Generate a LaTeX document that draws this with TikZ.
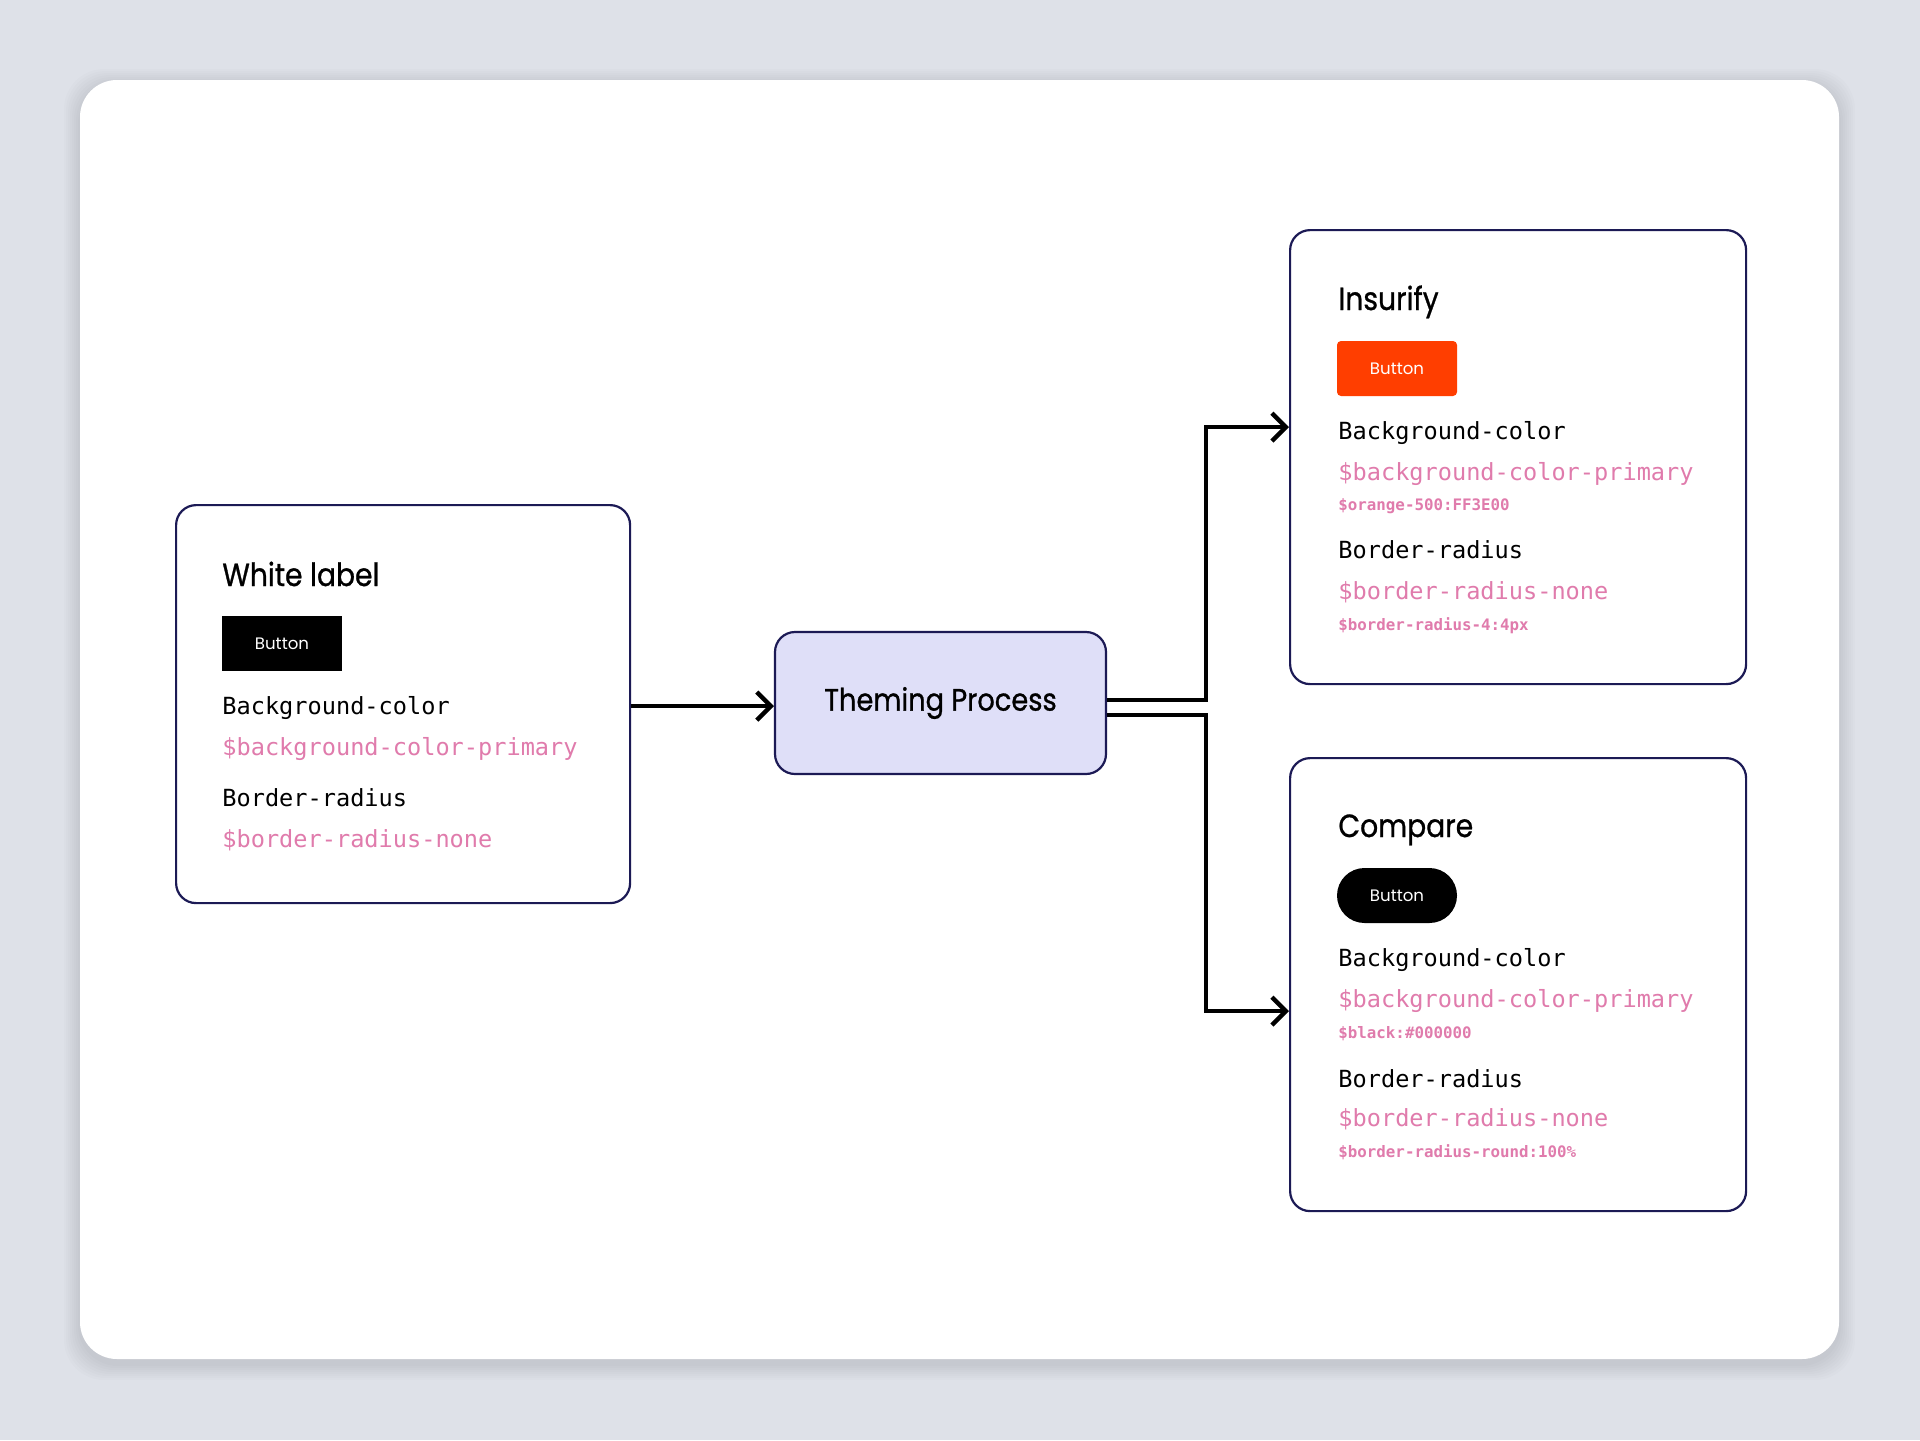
\documentclass[tikz,border=0pt]{standalone}
\usepackage{fontspec}
\setmainfont{Poppins}
\newfontfamily\titlef{Poppins}[FakeBold=0.9]
\newfontfamily\monof{DejaVu Sans Mono}
\usetikzlibrary{arrows.meta}
\definecolor{bgc}{HTML}{DEE1E8}
\definecolor{navy}{HTML}{1C1A55}
\definecolor{lav}{HTML}{DFDFF8}
\definecolor{pinkc}{HTML}{E07BAC}
\definecolor{orangec}{HTML}{FF3E00}
\newcommand{\narrow}[1]{\scalebox{0.88}[1]{#1}}
\tikzset{
  card/.style={draw=navy, line width=1.1pt, rounded corners=10pt, fill=white, anchor=north west, inner sep=0pt},
  title/.style={anchor=base west, inner sep=0pt, font=\titlef\fontsize{16}{18}\selectfont},
  lab/.style={anchor=base west, inner sep=0pt, font=\monof\fontsize{11.8}{14}\selectfont, text=black},
  tok/.style={anchor=base west, inner sep=0pt, font=\monof\fontsize{11.8}{14}\selectfont, text=pinkc},
  val/.style={anchor=base west, inner sep=0pt, font=\monof\bfseries\fontsize{7.9}{9}\selectfont, text=pinkc},
  btn/.style={minimum width=60pt, minimum height=27.5pt, inner sep=0pt, text=white, font=\fontsize{8.3}{10}\selectfont},
  conn/.style={draw=black, line width=2.2pt, -{Straight Barb[length=7pt,width=14pt,line width=2.2pt]}},
}
\begin{document}
\begin{tikzpicture}[x=0.5pt,y=-0.5pt]
\useasboundingbox (0,0) rectangle (1920,1440);
\fill[bgc] (0,0) rectangle (1920,1440);
% soft shadow of the card
\foreach \s in {2,4,...,16}{
  \fill[black, opacity=0.010, rounded corners=20pt] (80-\s,80-\s+5) rectangle (1839+\s,1359+\s+5);
}
\fill[white, rounded corners=18.5pt] (80,80) rectangle (1839,1359);

% boxes
\node[card, minimum width=227pt, minimum height=199pt] (wl) at (175,504) {};
\node[card, fill=lav, minimum width=165.5pt, minimum height=71pt, anchor=center, font=\titlef\fontsize{15.5}{18}\selectfont] (tp) at (940.5,703) {\narrow{Theming Process}};
\node[card, minimum width=228pt, minimum height=227pt] (ins) at (1289,229) {};
\node[card, minimum width=228pt, minimum height=226.5pt] (cmp) at (1289,757) {};

% connectors
\draw[conn] ([yshift=-1pt]wl.east) -- ([yshift=-1pt]tp.west |- wl.east);
\draw[conn] ([yshift=1.5pt]tp.east) -- (1206,700) |- ([yshift=15pt]ins.west);
\draw[conn] ([yshift=-6pt]tp.east) -- (1206,715) |- ([yshift=-13.25pt]cmp.west);

% White label contents
\node[title] (wlt) at (222,586) {\narrow{White label}};
\node[btn, fill=black] (wlb) at (282,643.5) {Button};
\node[lab] (wl1) at (222,714) {Background-color};
\node[tok] (wl2) at (222,755) {\$background-color-primary};
\node[lab] (wl3) at (222,806) {Border-radius};
\node[tok] (wl4) at (222,847) {\$border-radius-none};

% Insurify contents
\node[title] (inst) at (1338,310) {\narrow{Insurify}};
\node[btn, fill=orangec, rounded corners=2pt] (insb) at (1397,368.5) {Button};
\node[lab] (ins1) at (1338,439) {Background-color};
\node[tok] (ins2) at (1338,480) {\$background-color-primary};
\node[val] (ins3) at (1338,510) {\$orange-500:FF3E00};
\node[lab] (ins4) at (1338,558) {Border-radius};
\node[tok] (ins5) at (1338,599) {\$border-radius-none};
\node[val] (ins6) at (1338,630) {\$border-radius-4:4px};

% Compare contents
\node[title] (cmpt) at (1338,837) {\narrow{Compare}};
\node[btn, fill=black, rounded corners=13.75pt] (cmpb) at (1397,895.5) {Button};
\node[lab] (cmp1) at (1338,966) {Background-color};
\node[tok] (cmp2) at (1338,1007) {\$background-color-primary};
\node[val] (cmp3) at (1338,1038) {\$black:\#000000};
\node[lab] (cmp4) at (1338,1087) {Border-radius};
\node[tok] (cmp5) at (1338,1126) {\$border-radius-none};
\node[val] (cmp6) at (1338,1157) {\$border-radius-round:100\%};
\end{tikzpicture}
\end{document}
